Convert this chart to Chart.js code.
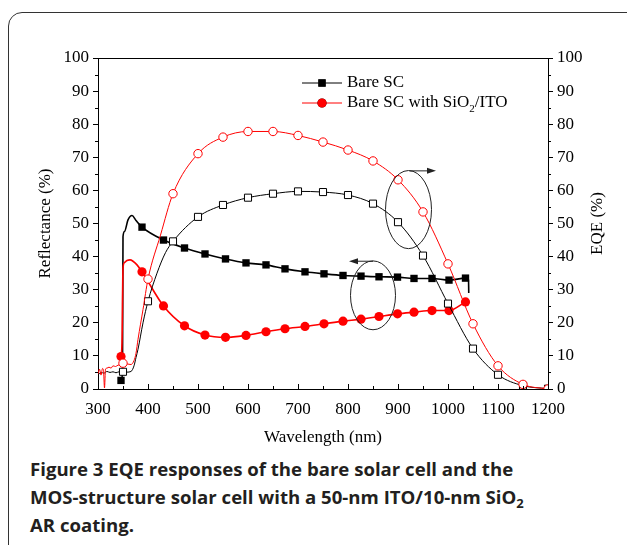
<!DOCTYPE html>
<html>
<head>
<meta charset="utf-8">
<script src="https://cdn.jsdelivr.net/npm/chart.js@4.4.1/dist/chart.umd.min.js"></script>
<style>
  html, body { margin: 0; padding: 0; background: #fff; }
  body { width: 627px; height: 545px; position: relative; overflow: hidden; }
  #frame { position: absolute; left: 8px; top: 12px; width: 640px; height: 600px;
           border: 1.5px solid #333; border-radius: 14px; }
  #wrap { position: absolute; left: 0; top: 0; width: 627px; height: 455px; }
  #caption { position: absolute; left: 30px; top: 455px; width: 595px;
             font-family: 'Open Sans', sans-serif; font-weight: 700; font-size: 18.6px;
             line-height: 28px; color: #231f20; white-space: nowrap; }
  #caption sub { font-size: 13px; line-height: 0; vertical-align: -4px; }
</style>
</head>
<body>
<div id="frame"></div>
<div id="wrap"><canvas id="chart" width="627" height="455"></canvas></div>
<div id="caption">Figure 3 EQE responses of the bare solar cell and the<br>MOS-structure solar cell with a 50-nm ITO/10-nm SiO<sub>2</sub><br>AR coating.</div>
<script>
// wavelengths (nm) where markers are drawn
const eqeMarkWl = [350, 400, 450, 500, 550, 600, 650, 700, 750, 800, 850, 900, 950, 1000, 1050, 1100, 1150, 1200];
const reflMarkWl = [346, 388, 431, 473, 514, 555, 596, 636, 674, 714, 752, 790, 826, 862, 899, 932, 968, 1002, 1035];

// EQE, bare SC (open black squares)
const eqeBareWl = [300, 306, 312, 318, 324, 330, 336, 342,
  350, 358, 366, 372, 376, 380, 390, 400, 418, 435, 450,
  500, 550, 600, 650, 700, 750, 800, 850, 900, 950, 1000, 1050, 1100, 1150, 1200];
const eqeBare = [4.2, 5.0, 4.8, 5.3, 5.0, 5.2, 4.9, 5.2,
  5.2, 5.1, 5.3, 7.0, 9.5, 12.0, 20.0, 26.5, 35.0, 41.2, 44.6,
  52.0, 55.6, 57.8, 59.0, 59.7, 59.5, 58.6, 56.0, 50.4, 40.3, 25.8, 12.2, 4.3, 1.0, 0.1];

// EQE, SC with SiO2/ITO (open red circles)
const eqeCoatWl = [300, 303, 306, 309, 311, 313, 315, 318, 322, 326, 330, 335, 340, 345,
  350, 358, 366, 372, 376, 380, 390, 400, 425, 450,
  500, 550, 600, 650, 700, 750, 800, 850, 900, 950, 1000, 1050, 1100, 1150, 1200];
const eqeCoat = [4.5, 6.0, 4.2, 6.2, 5.6, 0.3, 6.0, 6.3, 6.6, 6.3, 7.0, 6.8, 7.2, 7.4,
  7.8, 7.6, 7.4, 8.6, 10.8, 15.0, 24.0, 33.2, 46.5, 59.0,
  71.1, 76.1, 77.8, 77.8, 76.6, 74.6, 72.2, 68.9, 63.2, 53.5, 37.8, 19.7, 7.0, 1.4, 0.0];

// Reflectance, bare SC (filled black squares)
const reflBareWl = [346, 349, 350, 353, 360, 368, 376, 388, 431, 473, 514, 555, 596, 636,
  674, 714, 752, 790, 826, 862, 899, 932, 968, 1002, 1035, 1041, 1041.5];
const reflBare = [2.6, 5.0, 46.0, 47.6, 51.1, 52.4, 50.9, 48.9, 45.0, 42.6, 40.8, 39.3, 38.1, 37.5,
  36.3, 35.4, 34.8, 34.3, 34.1, 33.9, 33.8, 33.4, 33.4, 32.9, 33.5, 33.4, 29.0];

// Reflectance, SC with SiO2/ITO (filled red circles)
const reflCoatWl = [346, 348, 350, 353, 358, 364, 370, 378, 388, 431, 473, 514, 555, 596, 636,
  674, 714, 752, 790, 826, 862, 899, 932, 968, 1002, 1035];
const reflCoat = [9.8, 14.0, 36.5, 38.2, 38.8, 39.0, 38.6, 37.5, 35.4, 25.1, 19.1, 16.3, 15.6, 16.2, 17.3,
  18.2, 18.9, 19.7, 20.5, 21.1, 21.9, 22.7, 23.2, 23.7, 23.7, 26.3];

const xTicks = [300, 400, 500, 600, 700, 800, 900, 1000, 1100, 1200];

// ellipses (centre in data units, half-axes in nm / %) and their arrows
const ellipses = [
  {cx: 921, cy: 54.2, rx: 46, ry: 11.8, ax1: 923, ax2: 976, ay: 65.9},
  {cx: 850, cy: 28.3, rx: 45, ry: 10.4, ax1: 850, ax2: 802, ay: 38.6}
];

const serif = 'Liberation Serif';
Chart.defaults.font.family = serif;
Chart.defaults.font.size = 17;
Chart.defaults.color = '#000';

function pts(wl, v) { return wl.map((x, i) => ({x: x, y: v[i]})); }
function radii(wl, marks, r) { return wl.map(x => marks.includes(x) ? r : 0); }

const decor = {
  id: 'decor',
  afterDraw(chart) {
    const {ctx, chartArea: a} = chart;
    const x = chart.scales.x, y = chart.scales.y;
    const line = (x1, y1, x2, y2) => { ctx.beginPath(); ctx.moveTo(x1, y1); ctx.lineTo(x2, y2); ctx.stroke(); };
    ctx.save();
    ctx.strokeStyle = '#000';
    ctx.lineWidth = 1;
    line(a.left, a.top + 0.5, a.right, a.top + 0.5);

    // x ticks point inward
    for (let v = 300; v <= 1200; v += 50) {
      const px = Math.round(x.getPixelForValue(v)) + 0.5;
      line(px, a.bottom, px, a.bottom - (v % 100 === 0 ? 5 : 3));
    }
    // minor y ticks
    for (let v = 5; v < 100; v += 10) {
      const py = Math.round(y.getPixelForValue(v)) + 0.5;
      line(a.left - 3, py, a.left, py);
      line(a.right, py, a.right + 3, py);
    }

    // ellipses + arrows
    ctx.strokeStyle = '#222';
    ctx.fillStyle = '#222';
    ellipses.forEach(e => {
      const cx = x.getPixelForValue(e.cx), cy = y.getPixelForValue(e.cy);
      const rx = Math.abs(x.getPixelForValue(e.cx + e.rx) - cx);
      const ry = Math.abs(y.getPixelForValue(e.cy + e.ry) - cy);
      ctx.beginPath();
      ctx.ellipse(cx, cy, rx, ry, 0, 0, Math.PI * 2);
      ctx.stroke();
      const x1 = x.getPixelForValue(e.ax1), x2 = x.getPixelForValue(e.ax2), ay = y.getPixelForValue(e.ay);
      const dir = Math.sign(x2 - x1);
      line(x1, ay, x2 - dir * 6, ay);
      ctx.beginPath();
      ctx.moveTo(x2, ay);
      ctx.lineTo(x2 - dir * 9, ay - 3);
      ctx.lineTo(x2 - dir * 9, ay + 3);
      ctx.closePath();
      ctx.fill();
    });

    // legend
    const lx = 302, lw = 40;
    const rows = [
      {y: 83, color: '#000', style: 'rect', text: ['Bare SC']},
      {y: 103, color: '#ff0000', style: 'circle', text: ['Bare SC with SiO', '2', '/ITO']}
    ];
    ctx.textBaseline = 'middle';
    rows.forEach(r => {
      ctx.strokeStyle = r.color;
      ctx.lineWidth = 1;
      line(lx, r.y, lx + lw, r.y);
      Chart.helpers.drawPoint(ctx, {pointStyle: r.style, radius: r.style === 'rect' ? 5.2 : 4.6, borderWidth: 0},
        lx + lw / 2, r.y);
      ctx.fillStyle = r.color;
      ctx.fill();
      ctx.fillStyle = '#000';
      let tx = lx + lw + 5;
      r.text.forEach((t, i) => {
        if (i === 1) {
          ctx.font = '11px "' + serif + '"';
          ctx.fillText(t, tx, r.y + 6);
        } else {
          ctx.font = '17px "' + serif + '"';
          ctx.fillText(t, tx, r.y);
        }
        tx += ctx.measureText(t).width;
      });
    });

    // right axis title, reading upward
    ctx.font = '17px "' + serif + '"';
    ctx.fillStyle = '#000';
    ctx.textAlign = 'center';
    ctx.translate(598, (a.top + a.bottom) / 2);
    ctx.rotate(-Math.PI / 2);
    ctx.fillText('EQE (%)', 0, 0);
    ctx.restore();
  }
};

function yAxis(position, width, pad) {
  return {
    type: 'linear', position: position, min: 0, max: 100,
    ticks: {stepSize: 10, padding: pad, font: {family: serif, size: 17}},
    grid: {display: true, drawOnChartArea: false, drawTicks: true, tickLength: 5, color: '#000'},
    border: {display: true, color: '#000', width: 1},
    afterFit: s => { s.width = width; }
  };
}

const left = yAxis('left', 98, 4);
left.title = {display: true, text: 'Reflectance (%)', font: {family: serif, size: 17},
  padding: {top: 35, bottom: 0}};
const right = yAxis('right', 79, 4);

const common = {showLine: true, cubicInterpolationMode: 'monotone', pointHoverRadius: 0};

new Chart(document.getElementById('chart').getContext('2d'), {
  type: 'scatter',
  data: {
    datasets: [
      Object.assign({
        label: 'EQE with SiO2/ITO', yAxisID: 'y2', data: pts(eqeCoatWl, eqeCoat),
        borderColor: '#ff0000', borderWidth: 1, pointStyle: 'circle',
        pointRadius: radii(eqeCoatWl, eqeMarkWl, 4.2),
        pointBackgroundColor: '#fff', pointBorderColor: '#ff0000', pointBorderWidth: 1
      }, common),
      Object.assign({
        label: 'EQE bare', yAxisID: 'y2', data: pts(eqeBareWl, eqeBare),
        borderColor: '#000', borderWidth: 1, pointStyle: 'rect',
        pointRadius: radii(eqeBareWl, eqeMarkWl, 5),
        pointBackgroundColor: '#fff', pointBorderColor: '#000', pointBorderWidth: 1
      }, common),
      Object.assign({
        label: 'Reflectance with SiO2/ITO', yAxisID: 'y', data: pts(reflCoatWl, reflCoat),
        borderColor: '#ff0000', borderWidth: 1.6, pointStyle: 'circle',
        pointRadius: radii(reflCoatWl, reflMarkWl, 4.6),
        pointBackgroundColor: '#ff0000', pointBorderColor: '#ff0000', pointBorderWidth: 0
      }, common),
      Object.assign({
        label: 'Reflectance bare', yAxisID: 'y', data: pts(reflBareWl, reflBare),
        borderColor: '#000', borderWidth: 1.6, pointStyle: 'rect',
        pointRadius: radii(reflBareWl, reflMarkWl, 5.2),
        pointBackgroundColor: '#000', pointBorderColor: '#000', pointBorderWidth: 0
      }, common)
    ]
  },
  options: {
    responsive: false,
    animation: false,
    layout: {padding: {top: 58, left: 0, right: 0, bottom: 0}},
    plugins: {legend: {display: false}, tooltip: {enabled: false}},
    scales: {
      x: {
        type: 'linear', min: 300, max: 1200,
        afterBuildTicks: s => { s.ticks = xTicks.map(v => ({value: v})); },
        ticks: {padding: 10, maxRotation: 0, autoSkip: false, font: {family: serif, size: 17},
          callback: v => String(v)},
        grid: {display: false, drawTicks: false},
        border: {display: true, color: '#000', width: 1},
        title: {display: true, text: 'Wavelength (nm)', font: {family: serif, size: 17},
          padding: {top: 0, bottom: 7}},
        afterFit: s => { s.height = 66; }
      },
      y: left,
      y2: right
    }
  },
  plugins: [decor]
});
</script>
</body>
</html>
